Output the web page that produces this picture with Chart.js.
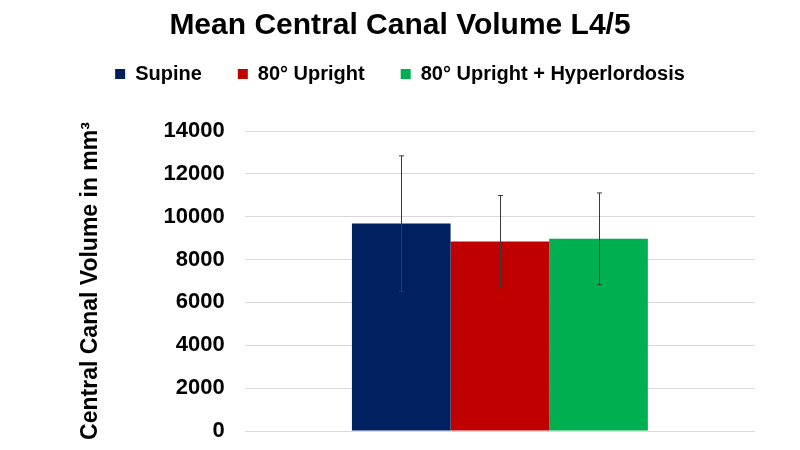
<!DOCTYPE html>
<html>
<head>
<meta charset="utf-8">
<script src="https://cdn.jsdelivr.net/npm/chart.js@4"></script>
<style>
html,body{margin:0;padding:0;background:#fff;}
#wrap{width:800px;height:450px;}
</style>
</head>
<body>
<div id="wrap"><canvas id="c" width="800" height="450"></canvas></div>
<script>
const categories = ['L4/5'];
const seriesNames = ['Supine', '80° Upright', '80° Upright + Hyperlordosis'];
const supine = [9680];
const upright = [8840];
const hyperlordosis = [8970];
const supineSD = [3160];
const uprightSD = [2150];
const hyperlordosisSD = [2140];
const yTicks = [0, 2000, 4000, 6000, 8000, 10000, 12000, 14000];

const colors = ['#002060', '#C00000', '#00B050'];
const FONT = "'Liberation Sans', Arial, sans-serif";

const errorBars = {
  id: 'errorBars',
  afterDatasetsDraw(chart) {
    const ctx = chart.ctx;
    const y = chart.scales.y;
    chart.data.datasets.forEach((ds, i) => {
      const meta = chart.getDatasetMeta(i);
      meta.data.forEach((bar, j) => {
        const m = ds.data[j], sd = ds.sd[j];
        const yt = y.getPixelForValue(m + sd);
        const yb = y.getPixelForValue(m - sd);
        const x = Math.round(bar.x) + 0.5;
        ctx.save();
        ctx.strokeStyle = '#3a3a3a';
        ctx.lineWidth = 1;
        ctx.beginPath();
        ctx.moveTo(x, yt); ctx.lineTo(x, yb);
        ctx.moveTo(x - 2.5, yt); ctx.lineTo(x + 2.5, yt);
        ctx.moveTo(x - 2.5, yb); ctx.lineTo(x + 2.5, yb);
        ctx.stroke();
        ctx.restore();
      });
    });
  }
};

const legendSpace = {
  id: 'legendSpace',
  beforeInit(chart) {
    const origFit = chart.legend.fit;
    chart.legend.fit = function () {
      origFit.bind(chart.legend)();
      this.height += 37;
    };
  }
};

new Chart(document.getElementById('c'), {
  type: 'bar',
  data: {
    labels: categories,
    datasets: [
      { label: seriesNames[0], data: supine, sd: supineSD, backgroundColor: colors[0] },
      { label: seriesNames[1], data: upright, sd: uprightSD, backgroundColor: colors[1] },
      { label: seriesNames[2], data: hyperlordosis, sd: hyperlordosisSD, backgroundColor: colors[2] }
    ]
  },
  options: {
    responsive: false,
    animation: false,
    layout: { padding: { left: 45, right: 45, top: 0, bottom: 19 } },
    datasets: { bar: { categoryPercentage: 0.58, barPercentage: 1.0 } },
    plugins: {
      title: {
        display: true,
        text: 'Mean Central Canal Volume L4/5',
        color: '#000',
        font: { family: FONT, size: 30, weight: 'bold' },
        padding: { top: 8, bottom: -16 }
      },
      legend: {
        display: true,
        position: 'top',
        labels: {
          color: '#000',
          font: { family: FONT, size: 20, weight: 'bold' },
          boxWidth: 10,
          boxHeight: 10,
          padding: 36
        }
      },
      tooltip: { enabled: false }
    },
    scales: {
      x: { display: false },
      y: {
        min: 0,
        max: 14000,
        afterBuildTicks(axis) { axis.ticks = yTicks.map(v => ({ value: v })); },
        afterFit(axis) { axis.paddingBottom = 0; },
        grid: { color: '#d9d9d9', drawTicks: false },
        border: { display: false },
        ticks: {
          color: '#000',
          padding: 20,
          font: { family: FONT, size: 22, weight: 'bold' },
          callback: (v) => String(v)
        },
        title: {
          display: true,
          text: 'Central Canal Volume in mm³',
          color: '#000',
          font: { family: FONT, size: 23, weight: 'bold' },
          padding: { top: 32, bottom: 39 }
        }
      }
    }
  },
  plugins: [errorBars, legendSpace]
});
</script>
</body>
</html>
